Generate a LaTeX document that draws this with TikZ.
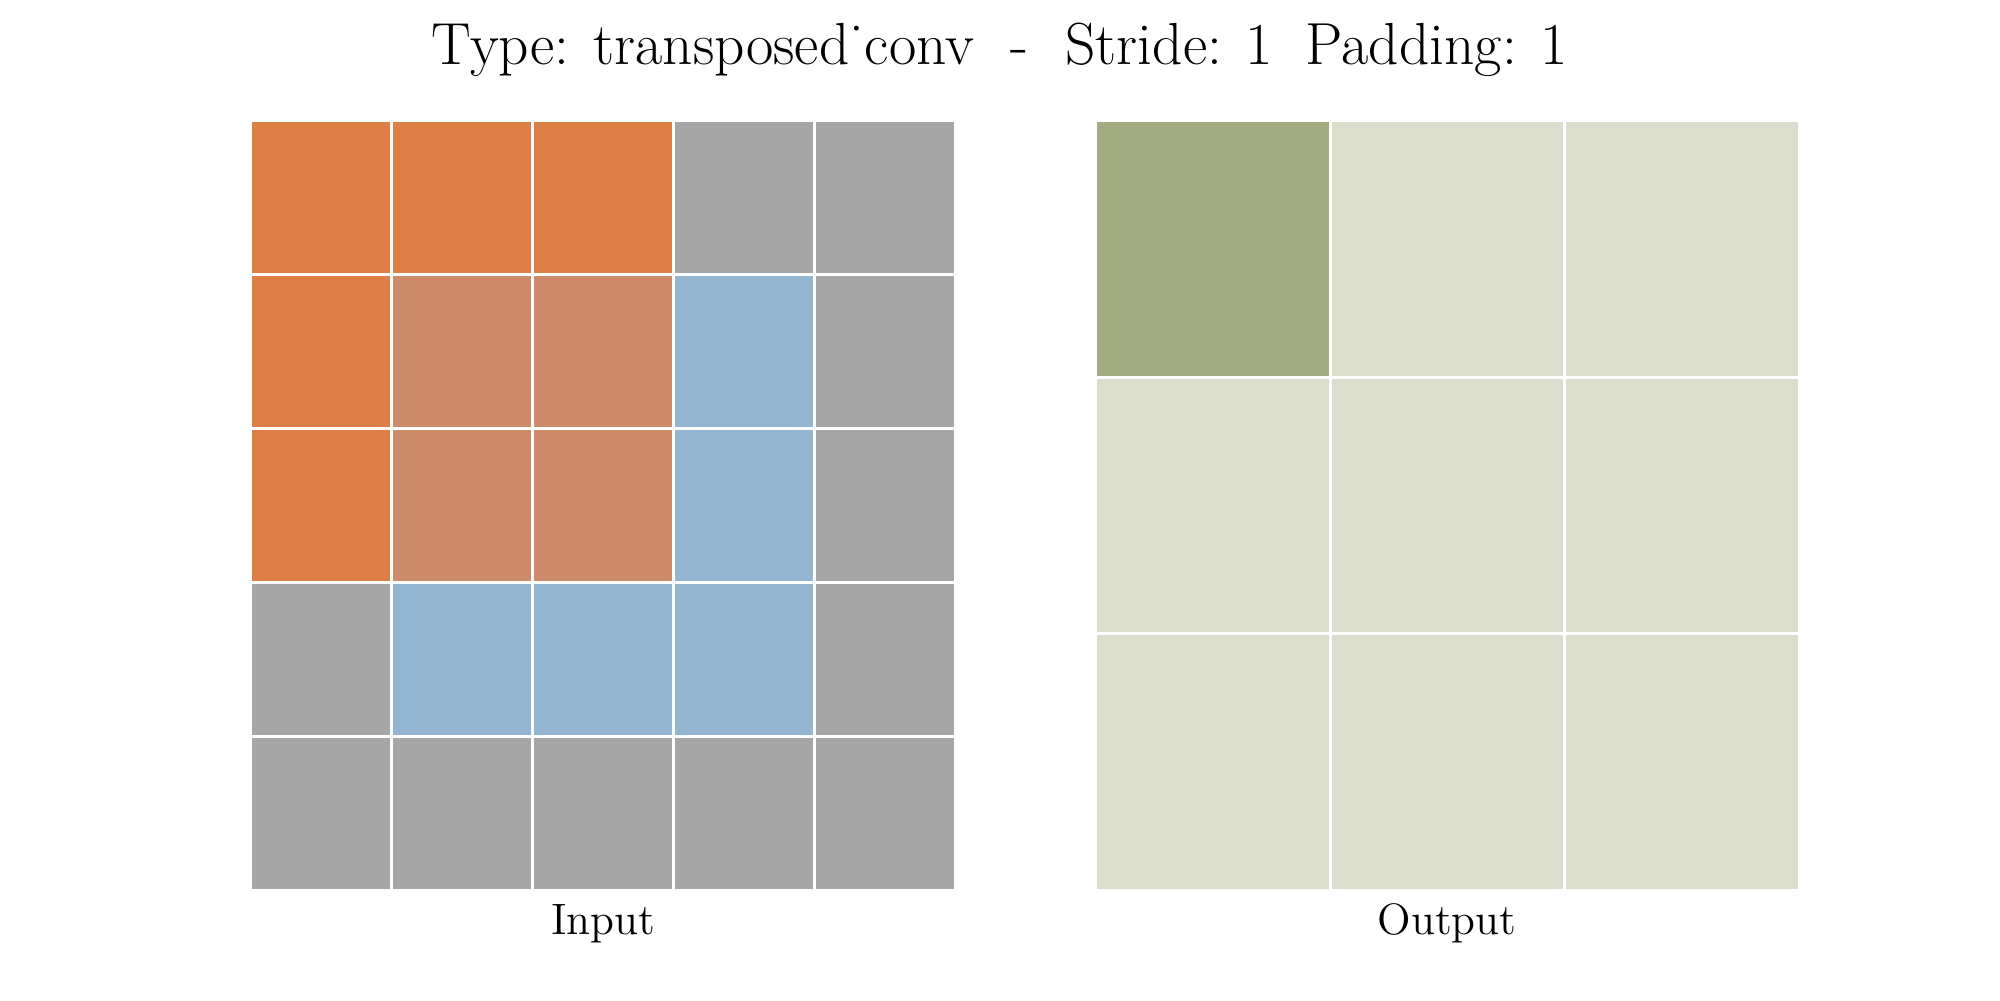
\documentclass[tikz,border=0pt]{standalone}
\definecolor{corange}{RGB}{221,128,71}
\definecolor{cblend}{RGB}{205,139,105}
\definecolor{cblue}{RGB}{148,181,210}
\definecolor{cgray}{RGB}{166,166,166}
\definecolor{cdark}{RGB}{163,171,128}
\definecolor{clight}{RGB}{219,222,204}
\tikzset{
  cell/.style={draw=white, line width=0.3mm},
  lbl/.style={anchor=base, inner sep=0pt, font=\fontsize{12.5}{14}\selectfont},
  ttl/.style={anchor=base, inner sep=0pt, font=\fontsize{16.9}{20}\selectfont}
}
\begin{document}
\begin{tikzpicture}[x=0.1mm,y=-0.1mm]
\useasboundingbox (0,0) rectangle (2000,1000);
% input grid 5x5
\foreach \r/\rowcols in {0/{corange,corange,corange,cgray,cgray},
                         1/{corange,cblend,cblend,cblue,cgray},
                         2/{corange,cblend,cblend,cblue,cgray},
                         3/{cgray,cblue,cblue,cblue,cgray},
                         4/{cgray,cgray,cgray,cgray,cgray}}{
  \foreach \col [count=\c from 0] in \rowcols {
    \path[cell, fill=\col] (250.5+141*\c,120.5+154*\r) rectangle ++(141,154);
  }
}
% output grid 3x3
\foreach \r in {0,1,2}{
  \foreach \c in {0,1,2}{
    \ifnum\r=0 \ifnum\c=0 \def\fc{cdark}\else\def\fc{clight}\fi\else\def\fc{clight}\fi
    \path[cell, fill=\fc] (1095.5+234.667*\c,120.5+256.667*\r) rectangle ++(234.667,256.667);
  }
}
\node[ttl] (title) at (1000,64) {Type: transposed\makebox[0.26em][c]{\.{}}conv\hspace{0.62em}-\hspace{0.62em}Stride: 1\hspace{0.55em}Padding: 1};
\node[lbl] (inlbl) at (603,934) {Input};
\node[lbl] (outlbl) at (1447,934) {Output};
\end{tikzpicture}
\end{document}
